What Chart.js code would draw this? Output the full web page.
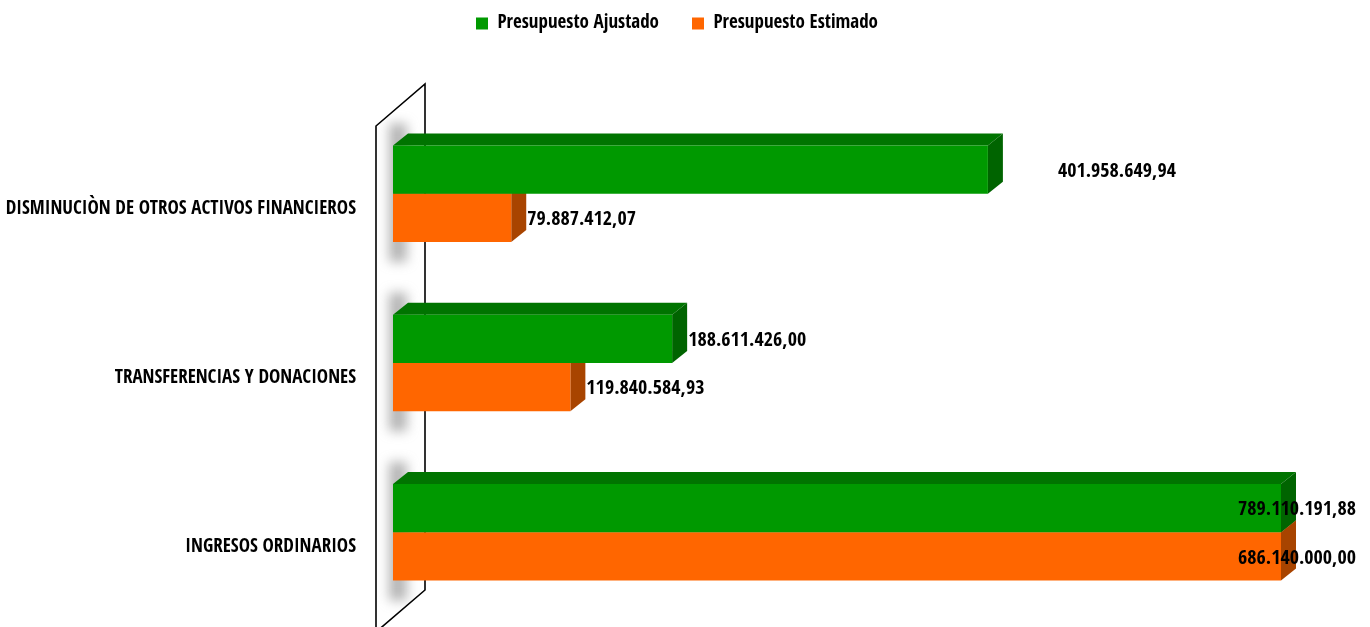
<!DOCTYPE html>
<html>
<head>
<meta charset="utf-8">
<script src="https://cdn.jsdelivr.net/npm/chart.js@4.4.1/dist/chart.umd.min.js"></script>
<style>
  html, body { margin: 0; padding: 0; background: #fff; }
  #wrap { width: 1370px; height: 627px; }
</style>
</head>
<body>
<div id="wrap"><canvas id="chart"></canvas></div>
<script>
// values
const categories = [
  'DISMINUCIÒN DE OTROS ACTIVOS FINANCIEROS',
  'TRANSFERENCIAS Y DONACIONES',
  'INGRESOS ORDINARIOS'
];
const seriesNames = ['Presupuesto Ajustado', 'Presupuesto Estimado'];
const ajustado = [401958649.94, 188611426.00, 789110191.88];
const estimado = [79887412.07, 119840584.93, 686140000.00];
const axisMax = 600000000;

const FONT = '"Open Sans Condensed", "Roboto Condensed", sans-serif';
const DX = 15, DY = 12; // 3d depth

const faceColors = [
  { top: '#007400', side: '#006400' },
  { top: '#c45000', side: '#a84400' }
];

function fmt(v) {
  const parts = v.toFixed(2).split('.');
  return parts[0].replace(/\B(?=(\d{3})+(?!\d))/g, '.') + ',' + parts[1];
}

const bar3d = {
  id: 'bar3d',
  afterLayout(chart) {
    // legend centred over the whole picture, not just the plot
    chart.legend.left = 0;
    chart.legend.right = chart.width - 16;
  },
  beforeDatasetsDraw(chart, args, opts) {
    const { ctx, chartArea: a } = chart;
    const g = chart.getDatasetMeta(0).data;
    const o = chart.getDatasetMeta(1).data;

    // side wall
    ctx.save();
    ctx.beginPath();
    ctx.moveTo(a.left - 17, a.top + 17);
    ctx.lineTo(a.left + 32, a.top - 25);
    ctx.lineTo(a.left + 32, a.bottom - 27);
    ctx.lineTo(a.left - 17, a.bottom + 15);
    ctx.closePath();
    ctx.fillStyle = '#fff';
    ctx.fill();
    ctx.save();
    ctx.clip();
    ctx.filter = 'blur(6px)';
    ctx.fillStyle = 'rgba(120,120,120,0.55)';
    g.forEach((bar, i) => {
      const t = bar.y - bar.height / 2;
      const b = o[i].y + o[i].height / 2;
      ctx.fillRect(a.left - 4, t - 22, 18, b - t + 42);
    });
    ctx.restore();
    ctx.lineWidth = 1.6;
    ctx.strokeStyle = '#000';
    ctx.stroke();
    ctx.restore();

    // top and side faces, back series first
    ctx.save();
    [1, 0].forEach(di => {
      const meta = chart.getDatasetMeta(di);
      meta.data.forEach(bar => {
        const t = bar.y - bar.height / 2;
        const b = bar.y + bar.height / 2;
        const l = bar.base;
        const r = Math.min(bar.x, a.right);
        ctx.fillStyle = faceColors[di].top;
        ctx.beginPath();
        ctx.moveTo(l, t);
        ctx.lineTo(l + DX, t - DY);
        ctx.lineTo(r + DX, t - DY);
        ctx.lineTo(r, t);
        ctx.closePath();
        ctx.fill();
        ctx.fillStyle = faceColors[di].side;
        ctx.beginPath();
        ctx.moveTo(r, t);
        ctx.lineTo(r + DX, t - DY);
        ctx.lineTo(r + DX, b - DY);
        ctx.lineTo(r, b);
        ctx.closePath();
        ctx.fill();
      });
    });
    ctx.restore();
  },
  afterDatasetsDraw(chart, args, opts) {
    const { ctx, chartArea: a } = chart;
    ctx.save();
    ctx.font = 'bold 20px ' + FONT;
    ctx.fillStyle = '#000';
    ctx.textBaseline = 'middle';
    [0, 1].forEach(di => {
      const meta = chart.getDatasetMeta(di);
      meta.data.forEach((bar, i) => {
        const txt = fmt(chart.data.datasets[di].data[i]);
        let x;
        if (bar.x > a.right) {
          ctx.textAlign = 'right';
          x = chart.width - 14;
        } else {
          ctx.textAlign = 'left';
          x = bar.x + DX + 1 + ((opts.labelNudge[di] || [])[i] || 0);
        }
        ctx.fillText(txt, x, bar.y + 2);
      });
    });
    ctx.restore();
  }
};

new Chart(document.getElementById('chart'), {
  type: 'bar',
  data: {
    labels: categories,
    datasets: [
      { label: seriesNames[0], data: ajustado, backgroundColor: '#009900', borderWidth: 0 },
      { label: seriesNames[1], data: estimado, backgroundColor: '#ff6600', borderWidth: 0 }
    ]
  },
  options: {
    indexAxis: 'y',
    responsive: true,
    maintainAspectRatio: false,
    animation: false,
    categoryPercentage: 0.57,
    barPercentage: 1,
    layout: { padding: { top: -19, right: 89, bottom: 10, left: 0 } },
    scales: {
      x: { display: false, min: 0, max: axisMax },
      y: {
        grid: { display: false, drawTicks: false },
        border: { display: false },
        ticks: {
          color: '#000',
          padding: 37,
          labelOffset: 15,
          font: { family: FONT, size: 19, weight: 'bold' }
        },
        afterFit(scale) {
          scale.width = 393;
          scale.paddingTop = 0;
          scale.paddingBottom = 0;
        }
      }
    },
    plugins: {
      legend: {
        position: 'top',
        labels: {
          color: '#000',
          boxWidth: 12,
          boxHeight: 12,
          padding: 33,
          font: { family: FONT, size: 19, weight: 'bold' }
        }
      },
      subtitle: {
        display: true,
        text: ' ',
        weight: 500,
        font: { size: 10, lineHeight: 1 },
        padding: { top: 0, bottom: 56 }
      },
      tooltip: { enabled: false },
      bar3d: { labelNudge: [[54, 0, 0], [0, 0, 0]] }
    }
  },
  plugins: [bar3d]
});
</script>
</body>
</html>
